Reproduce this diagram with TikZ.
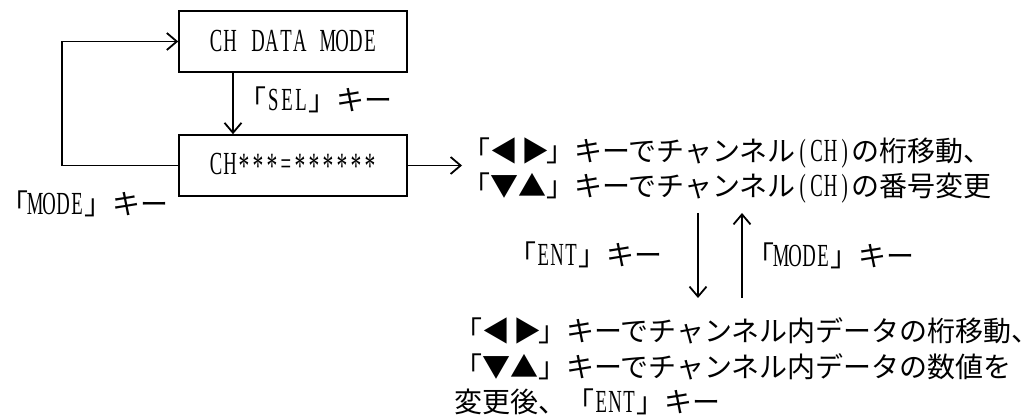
\documentclass[tikz,border=0pt]{standalone}
\usepackage{fontspec}
\usepackage{graphicx}
\setmainfont{Liberation Serif}[Scale=1.15, FakeStretch=0.58]
\newfontfamily\jpf{Noto Sans CJK JP}
\usetikzlibrary{arrows.meta}
\newcommand\J[1]{{\jpf #1}}
\newcommand\HW[1]{\hwloop#1\relax}
\def\hwloop#1{\ifx#1\relax\else\makebox[14pt]{#1}\expandafter\hwloop\fi}
\newcommand\st{\makebox[14pt]{\raisebox{-4pt}{\scalebox{1.15}{*}}}}
\newcommand\LR{◀\kern3pt▶\kern-3pt}
\begin{document}
\begin{tikzpicture}[x=1pt,y=-1pt, font=\fontsize{28pt}{35.5pt}\selectfont,
  box/.style={draw, line width=1.6pt, minimum width=228pt, minimum height=61pt, inner sep=0pt},
  txt/.style={anchor=base west, inner sep=0pt},
  arr/.style={line width=1.8pt, -{Straight Barb[length=10pt,width=17pt]}}]
\useasboundingbox (0,0) rectangle (1027,419);
\node[box] (b1) at (293,41.5) {\HW{CH~DATA~MODE}};
\node[box] (b2) at (293,165.5) {\HW{CH}\st\st\st\HW{=}\st\st\st\st\st\st};
\node[txt] (sel) at (238,110.6) {\J{「}\HW{SEL}\J{」キー}};
\node[txt] (modeL) at (0,214.6) {\J{「}\HW{MODE}\J{」キー}};
\node[txt] (u1) at (462,162) {\J{「\LR」キーでチャンネル}\HW{(CH)}\J{の桁移動、}};
\node[txt] (u2) at (462,197) {\J{「▼▲」キーでチャンネル}\HW{(CH)}\J{の番号変更}};
\node[txt] (ent) at (508,265.6) {\J{「}\HW{ENT}\J{」キー}};
\node[txt] (modeR) at (746,267) {\J{「}\HW{MODE}\J{」キー}};
\node[txt] (l1) at (454,341) {\J{「\LR」キーでチャンネル内データの桁移動\makebox[10pt][l]{、}}};
\node[txt] (l2) at (454,377) {\J{「▼▲」キーでチャンネル内データの数値を}};
\node[txt] (l3) at (454,412) {\J{変更後、「}\HW{ENT}\J{」キー}};
\coordinate (d1) at (698,213);
\coordinate (d2) at (698,298);
\coordinate (e1) at (742,298);
\coordinate (e2) at (742,213);
\draw[arr] ([xshift=-60pt]b1.south) -- ([xshift=-60pt]b2.north);
\draw[arr] (b2.west) -- ++(-116,0) |- (b1.west);
\draw[arr] (b2.east) -- (b2.east -| u1.west);
\draw[arr] (d1) -- (d2);
\draw[arr] (e1) -- (e2);
\end{tikzpicture}
\end{document}
